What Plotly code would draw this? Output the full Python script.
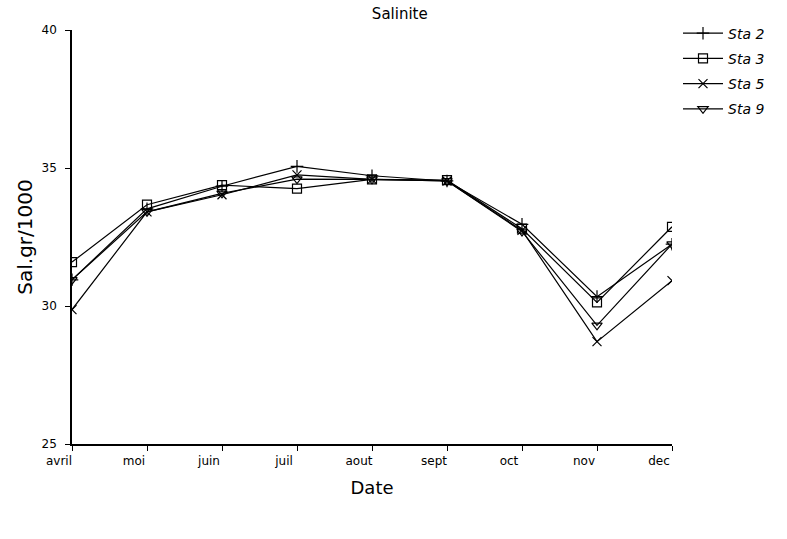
import plotly.graph_objects as go

months = ["avril", "moi", "juin", "juil", "aout", "sept", "oct", "nov", "dec"]
sta2 = [30.95, 33.52, 34.34, 35.06, 34.72, 34.53, 32.96, 30.34, 32.24]
sta3 = [31.59, 33.67, 34.38, 34.25, 34.59, 34.56, 32.80, 30.13, 32.87]
sta5 = [29.87, 33.41, 34.03, 34.75, 34.59, 34.53, 32.74, 28.71, 30.92]
sta9 = [30.95, 33.41, 34.08, 34.60, 34.59, 34.53, 32.70, 29.30, 32.24]
y_ticks = [25, 30, 35, 40]

series = [
    ("Sta 2", sta2, "cross-thin-open"),
    ("Sta 3", sta3, "square-open"),
    ("Sta 5", sta5, "x-thin-open"),
    ("Sta 9", sta9, "triangle-down-open"),
]

fig = go.Figure()
for i, (name, vals, sym) in enumerate(series):
    fig.add_trace(go.Scatter(
        x=list(range(len(months))), y=vals, name=name, mode="lines+markers",
        legendgroup=f"g{i}",
        line=dict(color="black", width=1.2),
        marker=dict(symbol=sym, size=9, color="black", line=dict(color="black", width=1.2)),
    ))

axis_font = dict(family="DejaVu Sans", size=12, color="black")
fig.update_layout(
    width=787, height=539,
    margin=dict(l=72, r=115, t=30, b=95),
    paper_bgcolor="white", plot_bgcolor="white",
    title=dict(text="Salinite", x=0.508, xanchor="center", y=0.985, yanchor="top",
               font=dict(family="DejaVu Sans", size=15, color="black")),
    showlegend=True,
    legend=dict(x=1.01, xanchor="left", y=1.03, yanchor="top",
                font=dict(family="DejaVu Sans", size=14, color="black", style="italic"),
                tracegroupgap=4, itemwidth=40, bgcolor="rgba(0,0,0,0)"),
    xaxis=dict(
        range=[0, 8], tickmode="array", tickvals=list(range(len(months))), ticktext=months,
        showgrid=False, zeroline=False, showline=True, linecolor="black", linewidth=1.6,
        ticks="outside", ticklen=5, tickcolor="black", tickfont=axis_font,
        title=dict(text="Date", font=dict(family="DejaVu Sans", size=18, color="black"), standoff=14),
        ticklabelshift=-13,
    ),
    yaxis=dict(
        range=[25, 40], tickvals=y_ticks,
        showgrid=False, zeroline=False, showline=True, linecolor="black", linewidth=1.6,
        ticks="outside", ticklen=5, tickcolor="black", tickfont=axis_font,
        ticklabelstandoff=6,
        title=dict(text="Sal.gr/1000", font=dict(family="DejaVu Sans", size=20, color="black"), standoff=4),
    ),
)

fig.write_html("out.html")
